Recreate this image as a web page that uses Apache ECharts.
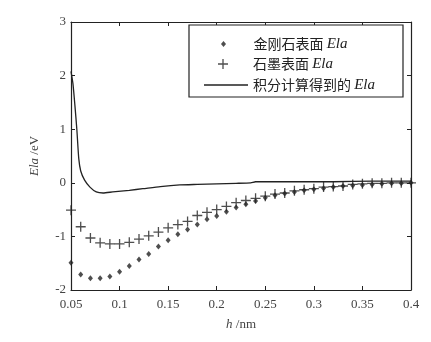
<!DOCTYPE html>
<html>
<head>
<meta charset="utf-8">
<script src="https://cdn.jsdelivr.net/npm/echarts@6/dist/echarts.min.js"></script>
<style>
  html, body { margin: 0; padding: 0; background: #fff; }
  #main { width: 431px; height: 342px; }
</style>
</head>
<body>
<div id="main"></div>
<script>
// h (nm) sample points for the two marker series
const hValues = [0.05, 0.06, 0.07, 0.08, 0.09, 0.10, 0.11, 0.12, 0.13, 0.14, 0.15, 0.16, 0.17, 0.18,
  0.19, 0.20, 0.21, 0.22, 0.23, 0.24, 0.25, 0.26, 0.27, 0.28, 0.29, 0.30, 0.31, 0.32, 0.33, 0.34,
  0.35, 0.36, 0.37, 0.38, 0.39, 0.40];
// 金刚石表面 Ela
const diamondEla = [-1.49, -1.71, -1.78, -1.78, -1.75, -1.66, -1.55, -1.43, -1.33, -1.19, -1.07, -0.96,
  -0.87, -0.78, -0.68, -0.62, -0.54, -0.46, -0.40, -0.34, -0.28, -0.23, -0.20, -0.17, -0.14, -0.12,
  -0.10, -0.08, -0.06, -0.05, -0.04, -0.03, -0.02, -0.01, -0.01, 0.0];
// 石墨表面 Ela
const graphiteEla = [-0.51, -0.82, -1.03, -1.12, -1.14, -1.14, -1.11, -1.05, -0.99, -0.92, -0.84, -0.78,
  -0.72, -0.61, -0.55, -0.50, -0.44, -0.37, -0.33, -0.29, -0.25, -0.21, -0.19, -0.15, -0.13, -0.11,
  -0.08, -0.07, -0.06, -0.03, -0.02, -0.01, -0.01, 0.0, 0.0, 0.0];
// 积分计算得到的 Ela
const lineH = [0.05, 0.052, 0.054, 0.056, 0.058, 0.060, 0.064, 0.0695, 0.076, 0.083, 0.093, 0.11,
  0.124, 0.142, 0.162, 0.18, 0.20, 0.22, 0.235, 0.24, 0.28, 0.32, 0.36, 0.40];
const lineEla = [2.08, 1.85, 1.45, 1.0, 0.45, 0.22, 0.05, -0.08, -0.17, -0.19, -0.17, -0.14,
  -0.11, -0.07, -0.04, -0.03, -0.02, -0.01, 0.0, 0.02, 0.02, 0.02, 0.03, 0.03];

const xTicks = { min: 0.05, max: 0.4, interval: 0.05 };
const yTicks = { min: -2, max: 3, interval: 1 };

const plusPath = "path://M4.35,0H5.65V4.35H10V5.65H5.65V10H4.35V5.65H0V4.35H4.35Z";
const diamondPath = "path://M2.5,0L5,3L2.5,6L0,3Z";
const ink = "#222";
const serif = "'Liberation Serif', 'DejaVu Serif', serif";
const cjk = "'Noto Sans CJK SC', 'Liberation Serif', sans-serif";

const pairs = (xs, ys) => xs.map((x, i) => [x, ys[i]]);

const chart = echarts.init(document.getElementById("main"));

const axisCommon = {
  axisLine: { show: true, onZero: false, lineStyle: { color: ink, width: 1.2 } },
  axisTick: { show: true, inside: true, length: 4, lineStyle: { color: ink } },
  splitLine: { show: false },
};

const legendText = {
  fontFamily: cjk,
  fontSize: 14,
  color: ink,
  lineHeight: 16,
  rich: { it: { fontFamily: serif, fontStyle: "italic", fontSize: 15, color: ink } },
};
const legendName = (n) => n + " {it|Ela}";

chart.setOption({
  backgroundColor: "#fff",
  animation: false,
  grid: { left: 71, right: 20, top: 22, bottom: 52 },
  xAxis: [
    {
      type: "value",
      ...xTicks,
      ...axisCommon,
      name: "{it|h} /nm",
      nameLocation: "middle",
      nameGap: 28,
      nameTextStyle: {
        fontFamily: serif, fontSize: 13, color: "#444",
        rich: { it: { fontFamily: serif, fontStyle: "italic", fontSize: 13, color: "#444" } },
      },
      axisLabel: {
        fontFamily: serif, fontSize: 13, color: "#444", margin: 8,
        formatter: (v) => String(Math.round(v * 100) / 100),
      },
    },
    {
      type: "value",
      position: "top",
      ...xTicks,
      ...axisCommon,
      axisLabel: { show: false },
    },
  ],
  yAxis: [
    {
      type: "value",
      ...yTicks,
      ...axisCommon,
      name: "{it|Ela} /eV",
      nameLocation: "middle",
      nameRotate: 90,
      nameGap: 30,
      nameTextStyle: {
        fontFamily: serif, fontSize: 13, color: "#444",
        rich: { it: { fontFamily: serif, fontStyle: "italic", fontSize: 13, color: "#444" } },
      },
      axisLabel: { fontFamily: serif, fontSize: 13, color: "#444", margin: 5 },
    },
    {
      type: "value",
      position: "right",
      ...yTicks,
      ...axisCommon,
      axisLabel: { show: false },
    },
  ],
  graphic: [
    {
      type: "rect",
      z: 3,
      shape: { x: 189, y: 25, width: 214, height: 72 },
      style: { fill: "#fff", stroke: ink, lineWidth: 1.2 },
    },
  ],
  legend: [
    {
      data: ["金刚石表面"],
      left: 216, top: 31,
      itemWidth: 50, itemHeight: 6,
      textStyle: legendText,
      formatter: legendName,
      z: 5,
    },
    {
      data: ["石墨表面"],
      left: 213, top: 51,
      itemWidth: 50, itemHeight: 10,
      textStyle: legendText,
      formatter: legendName,
      z: 5,
    },
    {
      data: [{ name: "积分计算得到的", icon: "rect" }],
      left: 199, top: 72,
      itemWidth: 44, itemHeight: 1.3,
      itemStyle: { color: ink },
      textStyle: legendText,
      formatter: legendName,
      z: 5,
    },
  ],
  series: [
    {
      name: "金刚石表面",
      type: "scatter",
      symbol: diamondPath,
      symbolSize: [5, 6],
      itemStyle: { color: ink },
      data: pairs(hValues, diamondEla),
    },
    {
      name: "石墨表面",
      type: "scatter",
      symbol: plusPath,
      symbolSize: 10,
      itemStyle: { color: ink },
      data: pairs(hValues, graphiteEla),
    },
    {
      name: "积分计算得到的",
      type: "line",
      symbol: "none",
      smooth: 0.2,
      lineStyle: { color: ink, width: 1.3 },
      itemStyle: { color: ink },
      data: pairs(lineH, lineEla),
    },
  ],
});

window.addEventListener("resize", () => chart.resize());
</script>
</body>
</html>
